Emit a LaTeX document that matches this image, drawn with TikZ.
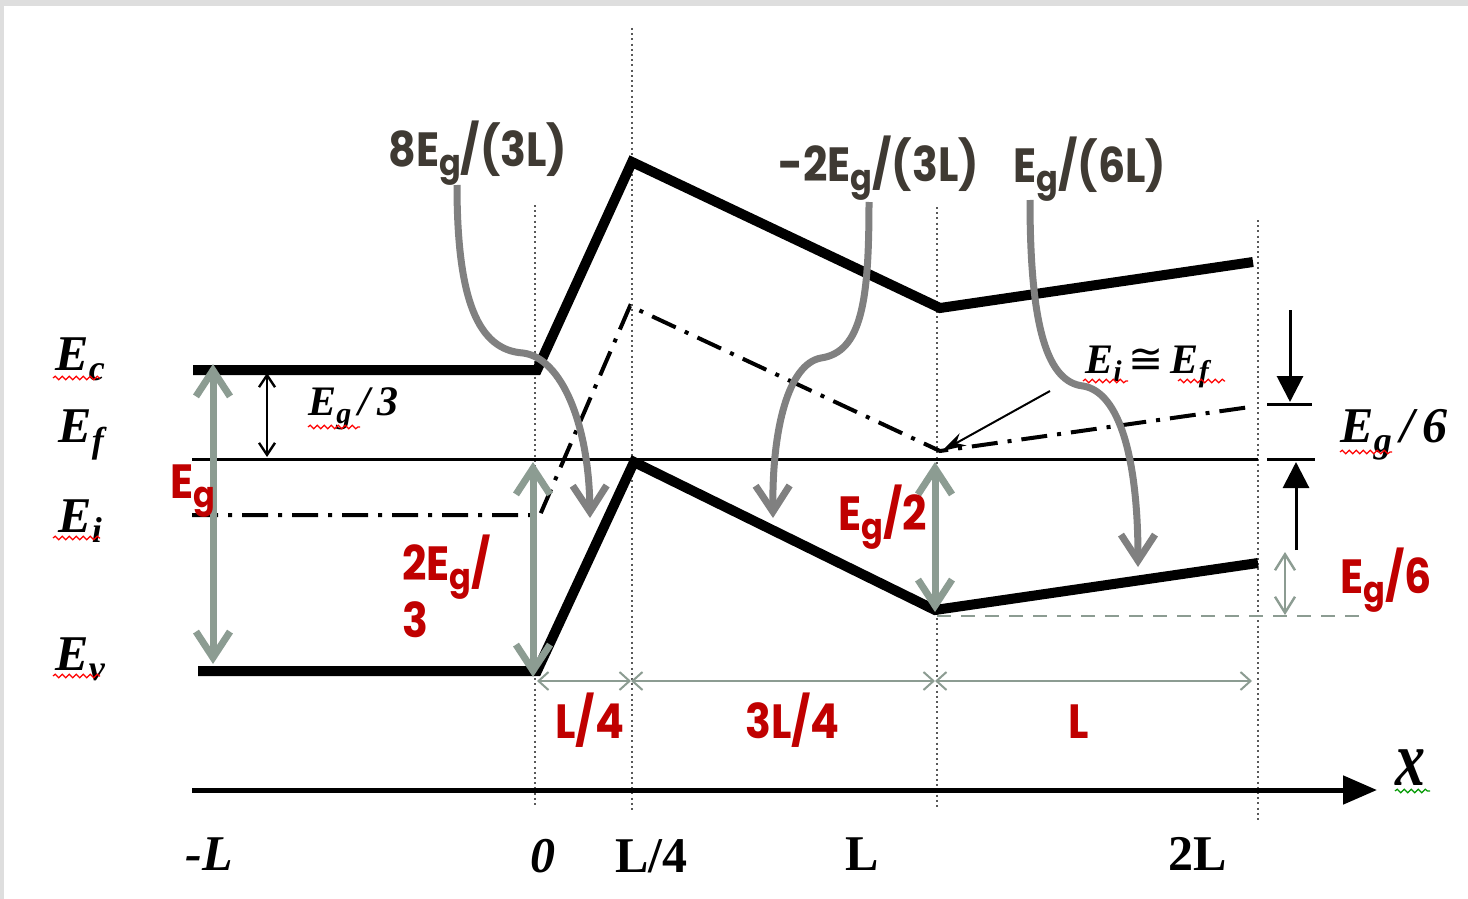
\documentclass[tikz,border=0pt]{standalone}
\usepackage{fontspec}
\setmainfont{Liberation Serif}
\newfontfamily\popfont{Poppins}
\newfontfamily\dvfont{DejaVu Sans}
\usetikzlibrary{arrows.meta,decorations.pathmorphing}
\definecolor{redc}{HTML}{C00000}
\definecolor{darkc}{HTML}{3F3A33}
\definecolor{grayc}{HTML}{808080}
\definecolor{greenc}{HTML}{8C9C92}
\definecolor{framec}{HTML}{DEDEDE}
\newcommand\mysub[2]{\raisebox{-0.2em}{\fontsize{#1}{#1}\selectfont #2}}
\newcommand\psub[1]{\raisebox{-4.5pt}{\fontsize{18}{18}\selectfont #1}}
\newcommand\narrow[1]{\scalebox{0.89}[1]{#1}}
\begin{document}
\begin{tikzpicture}[x=0.5pt,y=-0.5pt,
  band/.style={line width=5pt},
  thinline/.style={line width=1.5pt},
  dashdot/.style={line width=2pt, dash pattern=on 13pt off 5pt on 2pt off 5pt},
  vdot/.style={line width=1.3pt, dash pattern=on 1pt off 1.6pt, draw=black!65},
  garrow/.style={draw=grayc, line width=3.5pt, -{Straight Barb[length=13pt,width=17pt]}},
  gg/.style={draw=greenc, line width=3.5pt, {Straight Barb[length=13pt,width=17pt]}-{Straight Barb[length=13pt,width=17pt]}},
  dim/.style={draw=greenc, line width=1pt, {Straight Barb[length=5pt,width=9pt]}-{Straight Barb[length=5pt,width=9pt]}},
  tm/.style={font=\fontsize{25}{30}\selectfont\bfseries\itshape, inner sep=0pt, anchor=base west},
  tmu/.style={font=\fontsize{25}{30}\selectfont\bfseries, inner sep=0pt, anchor=base west},
  rl/.style={font=\popfont\fontsize{24}{28}\selectfont\bfseries, text=redc, inner sep=0pt, anchor=base west},
  dl/.style={font=\popfont\fontsize{24}{28}\selectfont\bfseries, text=darkc, inner sep=0pt, anchor=base west},
  wav/.style={draw=red, line width=0.6pt, decorate, decoration={snake, amplitude=0.9pt, segment length=3.5pt}},
  wavg/.style={wav, draw=green!60!black}
]
\useasboundingbox (0,0) rectangle (1468,899);
\fill[framec] (0,0) rectangle (1468,899);
\fill[white] (4,6) rectangle (1468,899);

% key coordinates
\coordinate (c0) at (193,370); \coordinate (c1) at (537,370);
\coordinate (c2) at (632,162); \coordinate (c3) at (940,308); \coordinate (c4) at (1253,262);
\coordinate (v0) at (198,671); \coordinate (v1) at (537,671);
\coordinate (v2) at (634,462); \coordinate (v3) at (935,610); \coordinate (v4) at (1258,563);
\coordinate (i0) at (192,515); \coordinate (i1) at (540,515);
\coordinate (i2) at (630,306); \coordinate (i3) at (940,451); \coordinate (i4) at (1250,407);
\coordinate (f0) at (192,459); \coordinate (f1) at (1258,459);

% dotted verticals
\coordinate (d1t) at (535,205); \coordinate (d1b) at (535,805);
\coordinate (d2t) at (632,28);  \coordinate (d2b) at (632,810);
\coordinate (d3t) at (937,207); \coordinate (d3b) at (937,810);
\coordinate (d4t) at (1258,220); \coordinate (d4b) at (1258,820);
\draw[vdot] (d1t) -- (d1b);
\draw[vdot] (d2t) -- (d2b);
\draw[vdot] (d3t) -- (d3b);
\draw[vdot] (d4t) -- (d4b);

% Fermi line and bands
\draw[thinline] (f0) -- (f1);
\draw[band] (c0) -- (c1) -- (c2) -- (c3) -- (c4);
\draw[band] (v0) -- (v1) -- (v2) -- (v3) -- (v4);
\draw[dashdot] (i0) -- (i1) -- (i2) -- (i3) -- (i4);

% x axis
\coordinate (ax0) at (192,790); \coordinate (ax1) at (1377,790);
\draw[line width=2.5pt, -{Triangle[length=17pt,width=14pt]}] (ax0) -- (ax1);

% dimension arrows
\coordinate (h0) at (537,681); \coordinate (h1) at (631,681);
\coordinate (h2) at (935,681); \coordinate (h3) at (1252,681);
\draw[dim] (h0) -- (h1);
\draw[dim] (h1) -- (h2);
\draw[dim] (h2) -- (h3);

% dashed reference line
\coordinate (g0) at (937,616); \coordinate (g1) at (1365,616);
\draw[draw=greenc, line width=1pt, dash pattern=on 7pt off 5pt] (g0) -- (g1);

% gray-green vertical arrows
\coordinate (eg0) at (213,364); \coordinate (eg1) at (213,664);
\draw[gg] (eg0) -- (eg1);
\coordinate (tw0) at (533,462); \coordinate (tw1) at (533,677);
\draw[gg] (tw0) -- (tw1);
\coordinate (hf0) at (935,462); \coordinate (hf1) at (935,612);
\draw[gg] (hf0) -- (hf1);
\coordinate (sx0) at (1285,552); \coordinate (sx1) at (1285,615);
\draw[draw=greenc, line width=1.2pt, {Straight Barb[length=8pt,width=10pt]}-{Straight Barb[length=8pt,width=10pt]}] (sx0) -- (sx1);

% black Eg/3 arrow
\coordinate (b0) at (267,373); \coordinate (b1) at (267,457);
\draw[line width=1.2pt, {Straight Barb[length=6pt,width=8pt]}-{Straight Barb[length=6pt,width=8pt]}] (b0) -- (b1);

% right black arrows and ticks
\coordinate (k0) at (1290,310); \coordinate (k1) at (1290,402);
\draw[line width=1.5pt, -{Triangle[length=13pt,width=13pt]}] (k0) -- (k1);
\coordinate (u0) at (1296,550); \coordinate (u1) at (1296,462);
\draw[line width=1.5pt, -{Triangle[length=13pt,width=13pt]}] (u0) -- (u1);
\coordinate (t1a) at (1267,404); \coordinate (t1b) at (1312,404);
\coordinate (t2a) at (1267,459); \coordinate (t2b) at (1315,459);
\draw[thinline] (t1a) -- (t1b);
\draw[thinline] (t2a) -- (t2b);

% Ei ~ Ef pointer
\coordinate (ep) at (1050,391); \coordinate (ept) at (942,451);
\draw[line width=1pt, -{Stealth[length=12pt,width=7pt]}] (ep) -- (ept);

% curved gray arrows
\coordinate (a1s) at (457,185); \coordinate (a1k) at (523,353); \coordinate (a1e) at (590,518);
\draw[garrow] (a1s) .. controls (457,300) and (478,350) .. (a1k) .. controls (562,358) and (589,425) .. (a1e);
\coordinate (a2s) at (869,202); \coordinate (a2k) at (821,358); \coordinate (a2e) at (773,518);
\draw[garrow] (a2s) .. controls (869,300) and (862,352) .. (a2k) .. controls (788,364) and (772,430) .. (a2e);
\coordinate (a3s) at (1030,200); \coordinate (a3k) at (1083,386); \coordinate (a3e) at (1138,567);
\draw[garrow] (a3s) .. controls (1030,330) and (1048,382) .. (a3k) .. controls (1120,392) and (1138,460) .. (a3e);

% Times labels
\node[tm] (lEc) at (55,370) {E\mysub{18}{c}};
\node[tm] (lEf) at (58,442) {E\mysub{18}{f}};
\node[tm] (lEi) at (58,532) {E\mysub{18}{i}};
\node[tm] (lEv) at (55,670) {E\mysub{18}{v}};
\node[tm, font=\fontsize{21}{25}\selectfont\bfseries\itshape] (lEg3) at (308,415) {E\mysub{15}{g}\,/\,3};
\node[tm] (lEg6) at (1340,442) {E\mysub{18}{g}\,/\,6};
\node[tm, font=\fontsize{21}{25}\selectfont\bfseries\itshape] (lEiEf) at (1085,373) {E\mysub{15}{i}\,{\dvfont\upshape\mdseries ≅}\,E\mysub{15}{f}};
\draw[wav] (53,378) -- (100,378);
\draw[wav] (53,538) -- (100,538);
\draw[wav] (53,676) -- (100,676);
\draw[wav] (308,427) -- (360,427);
\draw[wav] (1083,381) -- (1128,381);
\draw[wav] (1178,381) -- (1225,381);
\draw[wav] (1340,452) -- (1392,452);
\draw[wavg] (1395,791) -- (1430,791);

% axis labels
\node[tm] (aL) at (185,870) {-L};
\node[tm] (a0) at (530,872) {0};
\node[tmu] (aL4) at (615,872) {L/4};
\node[tmu] (aLL) at (845,870) {L};
\node[tmu] (a2L) at (1168,870) {2L};
\node[tm, font=\fontsize{30}{36}\selectfont\bfseries\itshape] (ax) at (1395,785) {\scalebox{1}[1.3]{x}};

% red labels
\node[rl] (rEg) at (170,498) {\narrow{E\psub{g}}};
\node[rl] (r2Eg) at (402,580) {\narrow{2E\psub{g}/}};
\node[rl] (r3) at (402,637) {\narrow{3}};
\node[rl] (rEg2) at (838,530) {\narrow{E\psub{g}/2}};
\node[rl] (rEg6) at (1340,593) {\narrow{E\psub{g}/6}};
\node[rl] (rL4) at (555,738) {\narrow{L/4}};
\node[rl] (r3L4) at (745,738) {\narrow{3L/4}};
\node[rl] (rL) at (1068,738) {\narrow{L}};

% top labels
\node[dl] (tp1) at (388,167) {\narrow{8E\psub{g}/(3L)}};
\node[dl] (tp2) at (778,182) {\narrow{-2E\psub{g}/(3L)}};
\node[dl] (tp3) at (1013,183) {\narrow{E\psub{g}/(6L)}};
\end{tikzpicture}
\end{document}
